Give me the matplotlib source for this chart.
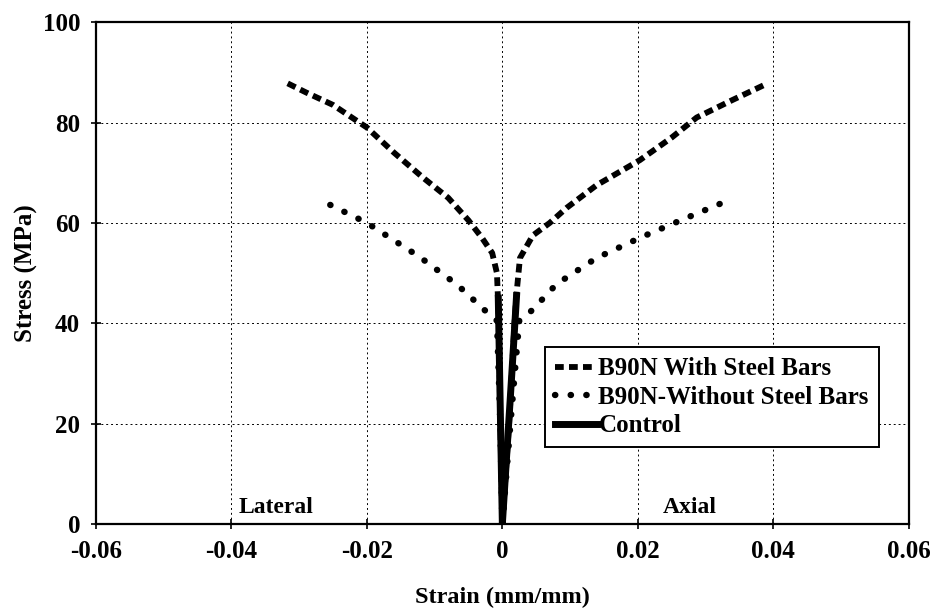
import matplotlib.pyplot as plt
import numpy as np

plt.rcParams['font.family'] = ['Liberation Serif', 'DejaVu Serif']

# ---- data ----
steel_lat_x = [0, -0.0003, -0.0005, -0.0008, -0.0015, -0.0030, -0.0050, -0.0080,
               -0.0117, -0.0160, -0.0200, -0.0250, -0.0290, -0.0320]
steel_lat_y = [0, 20, 40, 50, 54, 57, 60.5, 65, 69, 74, 79, 83.5, 86, 88]
steel_ax_x = [0, 0.0010, 0.0018, 0.0021, 0.0026, 0.0045, 0.0070, 0.0095,
              0.0139, 0.0203, 0.0250, 0.0287, 0.0340, 0.0387]
steel_ax_y = [0, 20, 40, 46, 53, 57.5, 60, 63, 67.5, 72.5, 77, 81, 84.5, 87.5]

nosteel_lat_x = [0, -0.0003, -0.0008, -0.0026, -0.0066, -0.0122, -0.0200, -0.0268]
nosteel_lat_y = [0, 20, 40.5, 42.6, 47.6, 53.2, 60, 64.5]
nosteel_ax_x = [0, 0.0012, 0.0025, 0.0044, 0.0080, 0.0139, 0.0206, 0.0258, 0.0325]
nosteel_ax_y = [0, 20, 40.5, 42.6, 47.8, 53, 57.2, 60.2, 64]

control_lat_x = [0, -0.0002, -0.0004, -0.0006]
control_lat_y = [0, 15, 30, 45]
control_ax_x = [0, 0.0007, 0.0014, 0.0021]
control_ax_y = [0, 15, 30, 45.5]

fig = plt.figure(figsize=(9.32, 6.15), dpi=100)
ax = fig.add_axes([0.103, 0.148, 0.872, 0.816])

# with steel bars: square dots
sq = dict(color='black', lw=4.2, linestyle=(0, (1.5, 0.9)), dash_capstyle='butt')
ax.plot(steel_lat_x, steel_lat_y, label='B90N With Steel Bars', **sq)
ax.plot(steel_ax_x, steel_ax_y, **sq)

# without steel bars: round dots
rd = dict(color='black', lw=4.6, linestyle=(0, (0.05, 2.4)), dash_capstyle='round')
ax.plot(nosteel_lat_x, nosteel_lat_y, label='B90N-Without Steel Bars', **rd)
ax.plot(nosteel_ax_x, nosteel_ax_y, **rd)

ax.plot(control_lat_x, control_lat_y, color='black', lw=5, label='Control')
ax.plot(control_ax_x, control_ax_y, color='black', lw=5)

ax.set_xlim(-0.06, 0.06)
ax.set_ylim(0, 100)
ax.set_xticks(np.arange(-0.06, 0.061, 0.02))
ax.set_xticklabels(['-0.06', '-0.04', '-0.02', '0', '0.02', '0.04', '0.06'])
ax.set_yticks(range(0, 101, 20))

ax.grid(True, color='black', lw=0.7, linestyle=(0, (2, 3)))
ax.set_axisbelow(True)

for s in ax.spines.values():
    s.set_linewidth(1.6)
ax.tick_params(direction='inout', length=7, width=1.2, labelsize=18, pad=8)
for lab in ax.get_xticklabels() + ax.get_yticklabels():
    lab.set_fontweight('bold')

ax.set_xlabel('Strain (mm/mm)', fontsize=17.5, fontweight='bold', labelpad=17)
ax.set_ylabel('Stress (MPa)', fontsize=18, fontweight='bold', labelpad=3)

ax.text(-0.039, 3.2, 'Lateral', fontsize=17, fontweight='bold', va='center')
ax.text(0.0237, 3.2, 'Axial', fontsize=17, fontweight='bold', va='center')

leg = ax.legend(loc='upper left', bbox_to_anchor=(0.552, 0.352),
                prop={'weight': 'bold', 'size': 18}, handlelength=1.7,
                handletextpad=0.05, borderpad=0.4, labelspacing=0.22,
                borderaxespad=0, fancybox=False, framealpha=1, edgecolor='black')
leg.get_frame().set_linewidth(1.4)

fig.savefig('out.png', dpi=100)
